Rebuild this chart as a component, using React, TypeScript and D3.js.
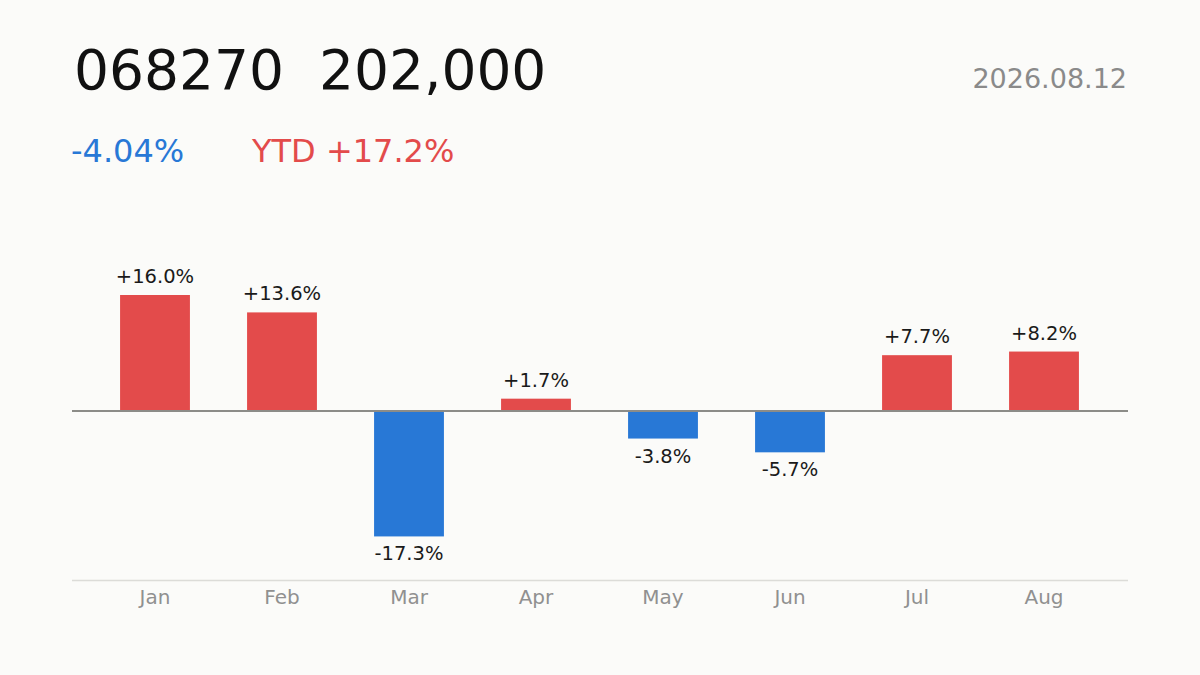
import React, { useEffect, useRef } from 'react';
import * as d3 from 'd3';

const months = ['Jan', 'Feb', 'Mar', 'Apr', 'May', 'Jun', 'Jul', 'Aug'];
const monthlyReturns = [16.0, 13.6, -17.3, 1.7, -3.8, -5.7, 7.7, 8.2];

const ticker = '068270';
const price = '202,000';
const dateLabel = '2026.08.12';
const dayChange = '-4.04%';
const ytdChange = 'YTD +17.2%';

const RED = '#e34b4b';
const BLUE = '#2878d6';
const FONT = '"DejaVu Sans", "Noto Sans CJK JP", sans-serif';

const App: React.FC = () => {
  const svgRef = useRef<SVGSVGElement>(null);

  useEffect(() => {
    if (!svgRef.current) return;
    const svg = d3.select(svgRef.current);
    svg.selectAll('*').remove();

    const width = 1200;
    const height = 675;

    svg.append('rect').attr('width', width).attr('height', height).attr('fill', '#fbfbf9');

    // header
    svg.append('text')
      .attr('x', 74).attr('y', 89)
      .attr('font-family', FONT).attr('font-size', 55)
      .attr('fill', '#111')
      .attr('xml:space', 'preserve')
      .text(`${ticker}  ${price}`);

    svg.append('text')
      .attr('x', 1127).attr('y', 88)
      .attr('text-anchor', 'end')
      .attr('font-family', FONT).attr('font-size', 27)
      .attr('fill', '#8a8a8a')
      .text(dateLabel);

    svg.append('text')
      .attr('x', 71).attr('y', 162)
      .attr('font-family', FONT).attr('font-size', 32)
      .attr('fill', BLUE)
      .text(dayChange);

    svg.append('text')
      .attr('x', 252).attr('y', 162)
      .attr('font-family', FONT).attr('font-size', 32)
      .attr('fill', RED)
      .text(ytdChange);

    // scales
    const x = d3.scaleBand<string>()
      .domain(months)
      .range([91.5, 1107.5])
      .paddingInner(0.45)
      .paddingOuter(0.225);

    const y = d3.scaleLinear().domain([-20, 20]).range([556, 266]);

    // bottom axis line
    svg.append('line')
      .attr('x1', 72).attr('x2', 1128)
      .attr('y1', 580.5).attr('y2', 580.5)
      .attr('stroke', '#dcdcd8').attr('stroke-width', 1.5);

    const data = months.map((m, i) => ({ m, v: monthlyReturns[i] }));

    svg.selectAll('.bar')
      .data(data)
      .enter()
      .append('rect')
      .attr('x', d => x(d.m)!)
      .attr('width', x.bandwidth())
      .attr('y', d => Math.min(y(d.v), y(0)))
      .attr('height', d => Math.abs(y(d.v) - y(0)))
      .attr('fill', d => (d.v >= 0 ? RED : BLUE));

    // zero line
    svg.append('line')
      .attr('x1', 72).attr('x2', 1128)
      .attr('y1', y(0)).attr('y2', y(0))
      .attr('stroke', '#8c8c88').attr('stroke-width', 2);

    // value labels
    svg.selectAll('.val')
      .data(data)
      .enter()
      .append('text')
      .attr('x', d => x(d.m)! + x.bandwidth() / 2)
      .attr('y', d => (d.v >= 0 ? y(d.v) - 12 : y(d.v) + 24))
      .attr('text-anchor', 'middle')
      .attr('font-family', FONT).attr('font-size', 19.5)
      .attr('fill', '#1a1a1a')
      .text(d => `${d.v >= 0 ? '+' : ''}${d.v.toFixed(1)}%`);

    // month labels
    svg.selectAll('.month')
      .data(months)
      .enter()
      .append('text')
      .attr('x', d => x(d)! + x.bandwidth() / 2)
      .attr('y', 604)
      .attr('text-anchor', 'middle')
      .attr('font-family', FONT).attr('font-size', 20)
      .attr('fill', '#909090')
      .text(d => d);
  }, []);

  return (
    <div style={{ position: 'fixed', left: 0, top: 0 }}>
      <svg ref={svgRef} width={1200} height={675} viewBox="0 0 1200 675" style={{ display: 'block' }} />
    </div>
  );
};

export default App;
